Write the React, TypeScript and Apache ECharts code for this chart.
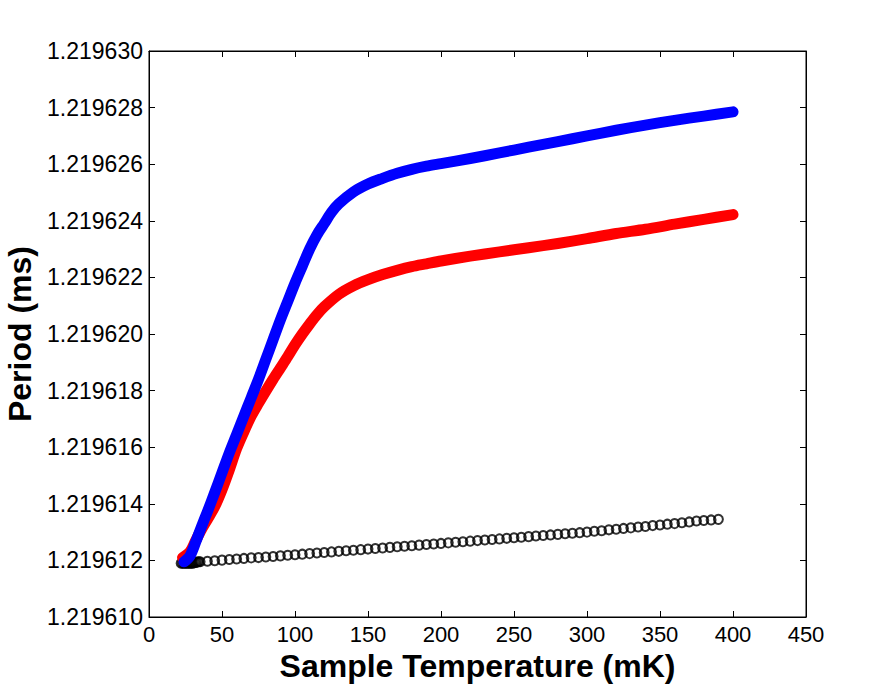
import React, { useEffect, useRef } from "react";
import * as echarts from "echarts";

const yTickLabels = ["1.219610","1.219612","1.219614","1.219616","1.219618","1.219620","1.219622","1.219624","1.219626","1.219628","1.219630"];
const xTickLabels = ["0","50","100","150","200","250","300","350","400","450"];

const blueX = [24, 28, 32, 36, 40, 45, 50, 55, 60, 65, 70, 75, 80, 85, 90, 95, 100, 105, 110, 115, 120, 125, 130, 140, 150, 160, 170, 180, 190, 200, 220, 240, 260, 280, 300, 320, 340, 360, 380, 400];
const blueY = [1.21961195, 1.21961215, 1.21961265, 1.2196132, 1.21961372, 1.2196144, 1.2196151, 1.2196158, 1.21961645, 1.2196171, 1.21961775, 1.2196184, 1.2196191, 1.2196198, 1.2196205, 1.21962115, 1.2196218, 1.2196224, 1.219623, 1.2196235, 1.2196239, 1.2196243, 1.2196246, 1.21962502, 1.2196253, 1.2196255, 1.21962568, 1.21962582, 1.21962593, 1.21962602, 1.2196262, 1.2196264, 1.2196266, 1.2196268, 1.219627, 1.2196272, 1.21962738, 1.21962755, 1.2196277, 1.21962785];

const redX = [23, 28, 32, 36, 40, 45, 50, 55, 60, 65, 70, 75, 80, 85, 90, 95, 100, 105, 110, 115, 120, 130, 140, 150, 160, 170, 180, 190, 200, 220, 240, 260, 280, 300, 320, 340, 360, 380, 400];
const redY = [1.2196121, 1.2196123, 1.2196127, 1.2196131, 1.21961345, 1.2196139, 1.2196145, 1.2196152, 1.21961595, 1.21961655, 1.2196171, 1.21961755, 1.21961798, 1.2196184, 1.2196188, 1.2196192, 1.21961962, 1.21962, 1.21962035, 1.21962068, 1.21962096, 1.2196214, 1.2196217, 1.21962192, 1.2196221, 1.21962225, 1.21962238, 1.21962248, 1.21962258, 1.21962275, 1.2196229, 1.21962305, 1.2196232, 1.21962337, 1.21962355, 1.2196237, 1.21962388, 1.21962405, 1.21962422];

const blackX = [22, 23, 24, 25, 26, 27, 28, 29, 30, 31, 32, 33, 34, 35, 40, 45, 50, 55, 60, 65, 70, 75, 80, 85, 90, 95, 100, 105, 110, 115, 120, 125, 130, 135, 140, 145, 150, 155, 160, 165, 170, 175, 180, 185, 190, 195, 200, 205, 210, 215, 220, 225, 230, 235, 240, 245, 250, 255, 260, 265, 270, 275, 280, 285, 290, 295, 300, 305, 310, 315, 320, 325, 330, 335, 340, 345, 350, 355, 360, 365, 370, 375, 380, 385, 390];
const blackY = [1.2196119, 1.2196119, 1.2196119, 1.2196119, 1.2196119, 1.2196119, 1.2196119, 1.2196119, 1.2196119, 1.21961192, 1.21961193, 1.21961194, 1.21961195, 1.21961195, 1.21961197, 1.21961199, 1.21961201, 1.21961203, 1.21961205, 1.21961207, 1.21961209, 1.2196121, 1.21961212, 1.21961214, 1.21961216, 1.21961218, 1.2196122, 1.21961222, 1.21961224, 1.21961226, 1.21961228, 1.2196123, 1.21961232, 1.21961234, 1.21961236, 1.21961238, 1.2196124, 1.21961242, 1.21961244, 1.21961246, 1.21961248, 1.2196125, 1.21961252, 1.21961254, 1.21961256, 1.21961258, 1.2196126, 1.21961262, 1.21961264, 1.21961266, 1.21961268, 1.2196127, 1.21961272, 1.21961274, 1.21961276, 1.21961278, 1.2196128, 1.21961282, 1.21961284, 1.21961286, 1.21961288, 1.2196129, 1.21961292, 1.21961294, 1.21961296, 1.21961298, 1.219613, 1.21961303, 1.21961305, 1.21961308, 1.2196131, 1.21961313, 1.21961315, 1.21961318, 1.2196132, 1.21961323, 1.21961325, 1.21961328, 1.2196133, 1.21961333, 1.21961336, 1.21961339, 1.21961341, 1.21961343, 1.21961345];

export default function App() {
  const ref = useRef<HTMLDivElement>(null);
  useEffect(() => {
    if (!ref.current) return;
    const chart = echarts.init(ref.current, null, { renderer: "svg" });
    const font = "'Liberation Sans', Arial, sans-serif";
    const pair = (xs: number[], ys: number[]) => xs.map((x, i) => [x, ys[i]]);
    chart.setOption({
      animation: false,
      backgroundColor: "#ffffff",
      grid: { left: 149, top: 51, right: 84, bottom: 76, show: true, borderColor: "#000", borderWidth: 1, containLabel: false, outerBoundsMode: "none" },
      xAxis: [
        {
          type: "value", min: 0, max: 450, interval: 50,
          name: "Sample Temperature (mK)", nameLocation: "middle", nameGap: 27,
          nameTextStyle: { fontFamily: font, fontWeight: "bold", fontSize: 32, color: "#000" },
          axisLine: { show: true, onZero: false, lineStyle: { color: "#000", width: 1 } },
          axisTick: { show: true, inside: true, length: 6, lineStyle: { color: "#000" } },
          axisLabel: { fontFamily: font, fontSize: 22, color: "#000", margin: 6, formatter: (v: number) => xTickLabels[Math.round(v / 50)] ?? String(v) },
          splitLine: { show: false },
        },
        {
          type: "value", min: 0, max: 450, interval: 50, position: "top",
          axisLine: { show: true, onZero: false, lineStyle: { color: "#000", width: 1 } },
          axisTick: { show: true, inside: true, length: 6, lineStyle: { color: "#000" } },
          axisLabel: { show: false }, splitLine: { show: false },
        },
      ],
      yAxis: [
        {
          type: "value", min: 1.21961, max: 1.21963, interval: 0.000002,
          name: "Period (ms)", nameLocation: "middle", nameGap: 110,
          nameTextStyle: { fontFamily: font, fontWeight: "bold", fontSize: 32, color: "#000" },
          axisLine: { show: true, onZero: false, lineStyle: { color: "#000", width: 1 } },
          axisTick: { show: true, inside: true, length: 6, lineStyle: { color: "#000" } },
          axisLabel: { fontFamily: font, fontSize: 23, color: "#000", margin: 6, formatter: (v: number) => yTickLabels[Math.round((v - 1.21961) / 0.000002)] ?? v.toFixed(6) },
          splitLine: { show: false },
        },
        {
          type: "value", min: 1.21961, max: 1.21963, interval: 0.000002, position: "right",
          axisLine: { show: true, onZero: false, lineStyle: { color: "#000", width: 1 } },
          axisTick: { show: true, inside: true, length: 6, lineStyle: { color: "#000" } },
          axisLabel: { show: false }, splitLine: { show: false },
        },
      ],
      series: [
        {
          type: "line", data: pair(redX, redY), smooth: 0.3, showSymbol: false, symbol: "none",
          lineStyle: { color: "#ff0000", width: 11, cap: "round", join: "round" },
        },
        {
          type: "line", data: pair(blueX, blueY), smooth: 0.3, showSymbol: false, symbol: "none",
          lineStyle: { color: "#0000ff", width: 11, cap: "round", join: "round" },
        },
        {
          type: "scatter", data: pair(blackX, blackY), symbol: "circle", symbolSize: 9,
          itemStyle: { color: "rgba(255,255,255,0)", borderColor: "#000", borderWidth: 2 },
        },
      ],
    });
    return () => chart.dispose();
  }, []);
  return <div ref={ref} style={{ position: "fixed", left: 0, top: 0, width: 890, height: 693, background: "#fff" }} />;
}
